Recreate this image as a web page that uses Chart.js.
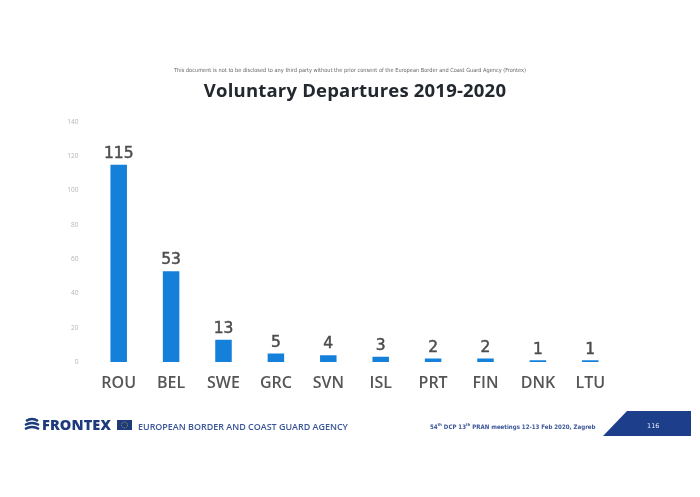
<!DOCTYPE html>
<html>
<head>
<meta charset="utf-8">
<title>Voluntary Departures 2019-2020</title>
<script src="https://cdn.jsdelivr.net/npm/chart.js@4"></script>
<style>
  html, body { margin: 0; padding: 0; background: #fff; }
  #page { position: relative; width: 700px; height: 497px; overflow: hidden; }
  #myChart { position: absolute; left: 0; top: 0; }
  .txt { position: absolute; white-space: nowrap; }
  #notice { left: 0; width: 700px; top: 67px; text-align: center; font: 5.6px "DejaVu Sans Condensed", "DejaVu Sans", sans-serif; color: #666; }
  #title { left: 0; width: 710px; top: 77px; text-align: center; font: bold 18.5px "Open Sans", sans-serif; letter-spacing: .2px; color: #22282e; }
  #brand { left: 42px; top: 415px; font: 800 14.5px "Open Sans", sans-serif; color: #1d3a7c; letter-spacing: .1px; }
  #agency { left: 138px; top: 420px; font: 600 8.95px "Open Sans", sans-serif; color: #3a5598; }
  #meeting { left: 430px; top: 423px; font: bold 6.1px "DejaVu Sans Condensed", "DejaVu Sans", sans-serif; color: #3a5598; }
  #meeting sup { font-size: 4px; line-height: 0; }
  #pageNo { left: 647px; top: 422px; font: 6.5px "DejaVu Sans", sans-serif; color: #e6ebf5; }
  svg { position: absolute; left: 0; top: 0; }
</style>
</head>
<body>
<div id="page">
  <canvas id="myChart" width="700" height="497"></canvas>
  <div class="txt" id="notice">This document is not to be disclosed to any third party without the prior consent of the European Border and Coast Guard Agency (Frontex)</div>
  <div class="txt" id="title">Voluntary Departures 2019-2020</div>
  <svg width="700" height="497">
    <!-- frontex wave mark -->
    <g fill="none" stroke="#1d3a7c" stroke-width="2.4">
      <path d="M26 421 Q32 417 38 421"/>
      <path d="M25 425 Q32 421 39 425"/>
      <path d="M25 429 Q32 425 39 429"/>
    </g>
    <!-- eu flag -->
    <rect x="117" y="420" width="15" height="10" fill="#1d3a7c"/>
    <circle cx="124.5" cy="425" r="3" fill="none" stroke="#c9b94a" stroke-width=".8" stroke-dasharray="1 1"/>
    <!-- page number tab -->
    <polygon points="603,436 627,411 691,411 691,436" fill="#1d3f8b"/>
  </svg>
  <div class="txt" id="brand">FRONTEX</div>
  <div class="txt" id="agency">EUROPEAN BORDER AND COAST GUARD AGENCY</div>
  <div class="txt" id="meeting">54<sup>th</sup> DCP 13<sup>th</sup> PRAN meetings 12-13 Feb 2020, Zagreb</div>
  <div class="txt" id="pageNo">116</div>
</div>
<script>
// chart values
const categories = ['ROU', 'BEL', 'SWE', 'GRC', 'SVN', 'ISL', 'PRT', 'FIN', 'DNK', 'LTU'];
const departures = [115, 53, 13, 5, 4, 3, 2, 2, 1, 1];
const yTicks = [0, 20, 40, 60, 80, 100, 120, 140];

// Draws the number above each bar
const valueLabels = {
    id: 'valueLabels',
    afterDatasetsDraw(chart) {
        const ctx = chart.ctx;
        const meta = chart.getDatasetMeta(0);
        ctx.save();
        ctx.font = '15.5px "DejaVu Sans", sans-serif';
        ctx.fillStyle = '#4d4d4d';
        ctx.strokeStyle = '#4d4d4d';
        ctx.lineWidth = 0.5;
        ctx.textAlign = 'center';
        ctx.textBaseline = 'bottom';
        meta.data.forEach((bar, i) => {
            ctx.fillText(departures[i], bar.x, bar.y - 3);
            ctx.strokeText(departures[i], bar.x, bar.y - 3);
        });
        ctx.restore();
    }
};

const chart = new Chart(document.getElementById('myChart').getContext('2d'), {
    type: 'bar',
    data: {
        labels: categories,
        datasets: [{
            data: departures,
            backgroundColor: '#1580da',
            barPercentage: 1,
            categoryPercentage: 0.315
        }]
    },
    options: {
        responsive: false,
        animation: false,
        layout: { padding: { top: 122, right: 83.5, bottom: 0, left: 0 } },
        plugins: { legend: { display: false }, tooltip: { enabled: false } },
        scales: {
            x: {
                grid: { display: false },
                border: { display: false },
                afterFit(scale) { scale.height = 135; },
                ticks: {
                    color: '#555',
                    padding: 4,
                    font: { family: '"Open Sans", sans-serif', size: 16, weight: '600' },
                    maxRotation: 0
                }
            },
            y: {
                min: 0,
                max: 140,
                grid: { display: false },
                border: { display: false },
                afterFit(scale) { scale.width = 92.5; },
                afterBuildTicks(scale) { scale.ticks = yTicks.map(v => ({ value: v })); },
                ticks: {
                    color: '#b5b5b5',
                    padding: 6,
                    font: { family: '"Open Sans", sans-serif', size: 6.5 }
                }
            }
        }
    },
    plugins: [valueLabels]
});
</script>
</body>
</html>
